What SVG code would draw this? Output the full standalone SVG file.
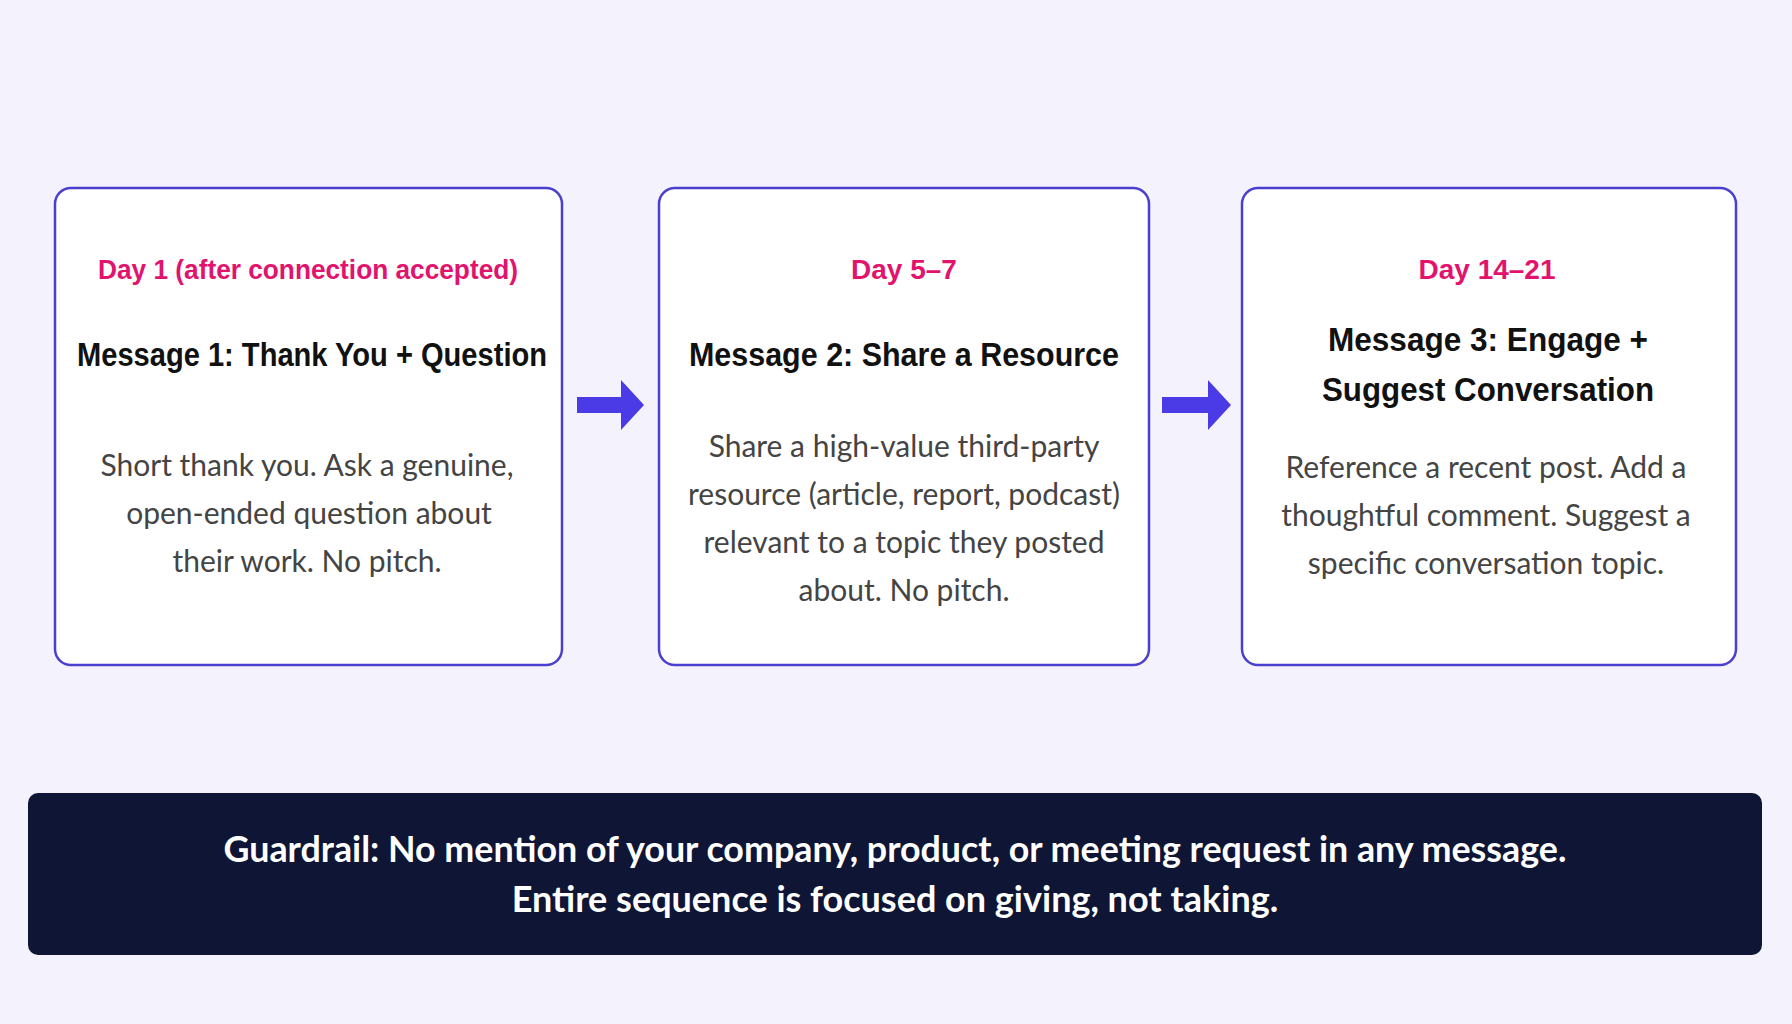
<svg xmlns="http://www.w3.org/2000/svg" width="1792" height="1024" viewBox="0 0 1792 1024">
<style>
.box{fill:#fff;stroke:#4b3fcf;stroke-width:2.5}
.day{font-family:"Liberation Sans",Arial,sans-serif;font-weight:bold;font-size:28px;fill:#e2136d;text-anchor:middle}
.ttl{font-family:"Liberation Sans",Arial,sans-serif;font-weight:bold;font-size:34px;fill:#111;text-anchor:middle}
.body{font-family:"Lato","Liberation Sans",sans-serif;font-size:30px;fill:#444;text-anchor:middle}
.ban{font-family:"Lato","Liberation Sans",sans-serif;font-weight:bold;font-size:36px;fill:#fff;text-anchor:middle}
.arr{fill:#4b3be6}
</style>
<rect width="1792" height="1024" fill="#f4f3fd"/>
<g id="node1">
<rect class="box" x="55" y="188" width="507" height="477" rx="16"/>
<text class="day" x="308" y="279" textLength="420" lengthAdjust="spacingAndGlyphs">Day 1 (after connection accepted)</text>
<text class="ttl" x="312" y="366" textLength="470" lengthAdjust="spacingAndGlyphs">Message 1: Thank You + Question</text>
<text class="body" x="307" y="476">Short thank you. Ask a genuine,</text>
<text class="body" x="309" y="524">open-ended question about</text>
<text class="body" x="307" y="572">their work. No pitch.</text>
</g>
<g id="node2">
<rect class="box" x="659" y="188" width="490" height="477" rx="16"/>
<text class="day" x="904" y="279">Day 5–7</text>
<text class="ttl" x="904" y="366" textLength="430" lengthAdjust="spacingAndGlyphs">Message 2: Share a Resource</text>
<text class="body" x="904" y="457">Share a high-value third-party</text>
<text class="body" x="904" y="505">resource (article, report, podcast)</text>
<text class="body" x="904" y="553">relevant to a topic they posted</text>
<text class="body" x="904" y="601">about. No pitch.</text>
</g>
<g id="node3">
<rect class="box" x="1242" y="188" width="494" height="477" rx="16"/>
<text class="day" x="1487" y="279">Day 14–21</text>
<text class="ttl" x="1488" y="351" textLength="320" lengthAdjust="spacingAndGlyphs">Message 3: Engage +</text>
<text class="ttl" x="1488" y="401" textLength="332" lengthAdjust="spacingAndGlyphs">Suggest Conversation</text>
<text class="body" x="1486" y="478">Reference a recent post. Add a</text>
<text class="body" x="1486" y="526">thoughtful comment. Suggest a</text>
<text class="body" x="1486" y="574">specific conversation topic.</text>
</g>
<g id="connectors">
<polygon class="arr" points="577,397 621,397 621,380 644,405 621,430 621,413 577,413"/>
<polygon class="arr" points="1162,397 1208,397 1208,380 1231,405 1208,430 1208,413 1162,413"/>
</g>
<g id="guardrail">
<rect x="28" y="793" width="1734" height="162" rx="10" fill="#0e1535"/>
<text class="ban" x="895" y="862" textLength="1343" lengthAdjust="spacingAndGlyphs">Guardrail: No mention of your company, product, or meeting request in any message.</text>
<text class="ban" x="895" y="912">Entire sequence is focused on giving, not taking.</text>
</g>
</svg>
